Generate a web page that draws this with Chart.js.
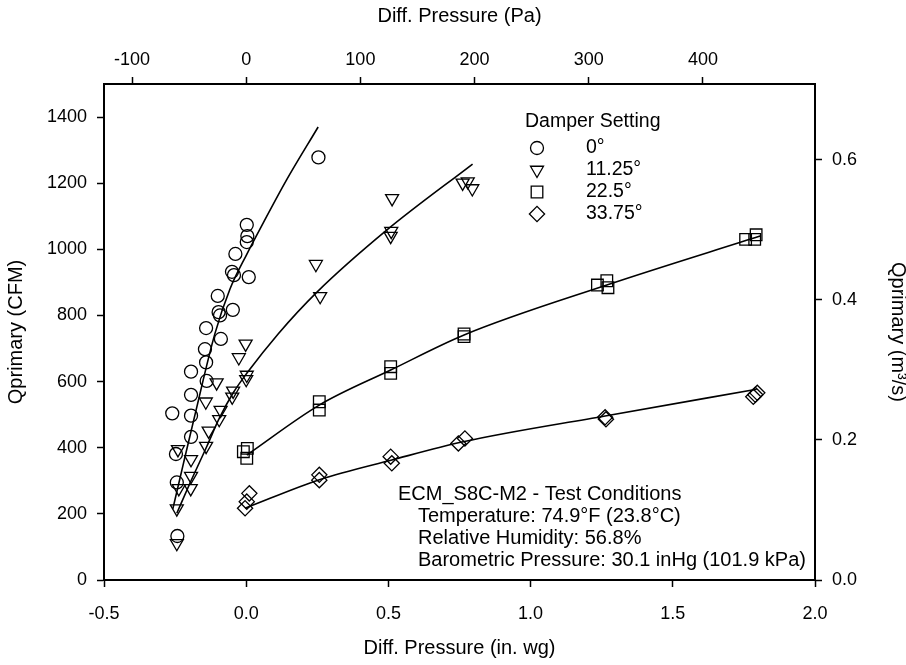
<!DOCTYPE html>
<html><head><meta charset="utf-8">
<script src="https://cdn.jsdelivr.net/npm/chart.js@4/dist/chart.umd.min.js"></script>
<style>html,body{margin:0;padding:0;background:#fff;}#wrap{width:906px;height:665px;}</style>
</head><body><div id="wrap"><canvas id="c" width="906" height="665"></canvas></div>
<script>
// ---- data ----
const circleX = [0.254, 0.002, 0.004, 0.002, -0.038, -0.050, -0.043, 0.009, -0.100, -0.097, -0.092, -0.047, -0.141, -0.089, -0.145, -0.141, -0.194, -0.139, -0.194, -0.260, -0.194, -0.194, -0.247, -0.244, -0.242];
const circleY = [1278, 1074, 1040, 1022, 986, 932, 922, 916, 859, 810, 800, 817, 762, 729, 698, 658, 630, 602, 560, 504, 497, 433, 381, 295, 133];
const triX = [-0.002, -0.026, 0.002, 0.000, -0.104, -0.046, -0.049, -0.142, -0.090, -0.095, -0.132, -0.141, -0.240, -0.194, -0.194, -0.195, -0.237, -0.244, -0.244, 0.245, 0.260, 0.513, 0.510, 0.508, 0.761, 0.779, 0.795];
const triY = [714, 673, 620, 607, 597, 572, 554, 539, 514, 486, 451, 405, 395, 365, 314, 277, 277, 216, 111, 955, 858, 1154, 1055, 1040, 1201, 1205, 1184];
const sqX = [-0.010, 0.004, 0.002, 0.257, 0.257, 0.508, 0.508, 0.766, 0.766, 1.235, 1.268, 1.272, 1.756, 1.793, 1.788];
const sqY = [388, 398, 368, 539, 514, 645, 625, 744, 736, 892, 905, 884, 1030, 1044, 1030];
const diaX = [0.011, 0.002, -0.004, 0.257, 0.257, 0.508, 0.512, 0.746, 0.769, 1.262, 1.265, 1.783, 1.797, 1.790];
const diaY = [262, 237, 217, 318, 302, 373, 353, 413, 428, 492, 486, 554, 566, 560];

// fitted curves
const fitCircleX = [-0.258, -0.22, -0.18, -0.11, -0.057, 0.002, 0.06, 0.142, 0.253];
const fitCircleY = [215, 355, 500, 745, 880, 985, 1080, 1210, 1370];
const fitTriX = [-0.244, -0.194, -0.139, -0.094, -0.045, 0.002, 0.113, 0.248, 0.494, 0.796];
const fitTriY = [202, 300, 403, 490, 567, 625, 745, 870, 1058, 1258];
const fitSqX = [0.002, 0.257, 0.508, 0.766, 1.268, 1.807];
const fitSqY = [378, 529, 635, 741, 892, 1040];
const fitDiaX = [-0.004, 0.26, 0.512, 0.763, 1.262, 1.795];
const fitDiaY = [217, 304, 363, 418, 496, 577];

const seriesNames = ['0°', '11.25°', '22.5°', '33.75°'];
const legendTitle = 'Damper Setting';
const noteLines = ['ECM_S8C-M2 - Test Conditions', 'Temperature: 74.9°F (23.8°C)', 'Relative Humidity: 56.8%', 'Barometric Pressure: 30.1 inHg (101.9 kPa)'];

const xMin = -0.5, xMax = 2.0, yMin = 0, yMax = 1500;
const PA_PER_INWG = 249.089;
const M3S_PER_CFM = 0.000471947;

const FONT = '"Liberation Sans", Arial, sans-serif';
const zip = (xs, ys) => xs.map((x, i) => ({x, y: ys[i]}));

const markers = [
  {pointStyle: 'circle', radius: 6.5, rotation: 0},
  {pointStyle: 'triangle', radius: 7.5, rotation: 180},
  {pointStyle: 'rect', radius: 8.2, rotation: 0},
  {pointStyle: 'rectRot', radius: 7.6, rotation: 0}
];

function pointDs(label, xs, ys, m) {
  return {label, data: zip(xs, ys), showLine: false, pointStyle: m.pointStyle, pointRadius: m.radius,
    pointRotation: m.rotation, pointBorderWidth: 1.3, borderColor: '#000', backgroundColor: 'rgba(0,0,0,0)',
    pointBackgroundColor: 'rgba(0,0,0,0)', pointBorderColor: '#000', pointHoverRadius: m.radius};
}
function lineDs(xs, ys) {
  return {label: '', data: zip(xs, ys), showLine: true, pointRadius: 0, borderColor: '#000', borderWidth: 1.6,
    cubicInterpolationMode: 'monotone', fill: false};
}

const overlay = {
  id: 'overlay',
  afterDraw(chart) {
    const ctx = chart.ctx;
    ctx.save();
    ctx.textBaseline = 'middle';
    ctx.textAlign = 'left';
    ctx.font = '19.5px ' + FONT;
    ctx.fillStyle = '#000';
    ctx.fillText(legendTitle, 525, 122);
    seriesNames.forEach((n, i) => {
      const y = 148 + i * 22;
      const m = markers[i];
      ctx.strokeStyle = '#000';
      ctx.lineWidth = 1.3;
      ctx.fillStyle = 'rgba(0,0,0,0)';
      Chart.helpers.drawPoint(ctx, {pointStyle: m.pointStyle, radius: m.radius, rotation: m.rotation, borderWidth: 1.3}, 537, y);
      ctx.fillStyle = '#000';
      ctx.fillText(n, 586, y);
    });
    ctx.font = '20px ' + FONT;
    noteLines.forEach((t, i) => {
      ctx.fillText(t, i === 0 ? 398 : 418, 494 + i * 22);
    });
    ctx.restore();
  }
};

const tickFont = {family: FONT, size: 18};
const titleFont = {family: FONT, size: 20};
const gridCfg = {drawOnChartArea: false, drawTicks: true, tickLength: 7, tickColor: '#000', tickWidth: 1.5, color: '#000'};
const borderCfg = {display: true, color: '#000', width: 2};
const plain = v => String(v);

new Chart(document.getElementById('c'), {
  type: 'scatter',
  data: {datasets: [
    pointDs(seriesNames[0], circleX, circleY, markers[0]),
    pointDs(seriesNames[1], triX, triY, markers[1]),
    pointDs(seriesNames[2], sqX, sqY, markers[2]),
    pointDs(seriesNames[3], diaX, diaY, markers[3]),
    lineDs(fitCircleX, fitCircleY),
    lineDs(fitTriX, fitTriY),
    lineDs(fitSqX, fitSqY),
    lineDs(fitDiaX, fitDiaY)
  ]},
  options: {
    responsive: false, animation: false, devicePixelRatio: 1,
    layout: {padding: 0},
    plugins: {legend: {display: false}, tooltip: {enabled: false}},
    scales: {
      x: {type: 'linear', position: 'bottom', min: xMin, max: xMax,
        ticks: {stepSize: 0.5, includeBounds: false, color: '#000', font: tickFont, padding: 16, maxRotation: 0,
          callback: v => v.toFixed(1)},
        grid: gridCfg, border: borderCfg,
        title: {display: true, text: 'Diff. Pressure (in. wg)', color: '#000', font: titleFont, padding: {top: 0, bottom: 5}},
        afterFit: s => { s.height = 85; }},
      x2: {type: 'linear', position: 'top', min: xMin * PA_PER_INWG, max: xMax * PA_PER_INWG,
        ticks: {stepSize: 100, includeBounds: false, color: '#000', font: tickFont, padding: 6, maxRotation: 0, callback: plain},
        grid: gridCfg, border: borderCfg,
        title: {display: true, text: 'Diff. Pressure (Pa)', color: '#000', font: titleFont, padding: {top: 4, bottom: 0}},
        afterFit: s => { s.height = 84; }},
      y: {type: 'linear', position: 'left', min: yMin, max: yMax,
        ticks: {stepSize: 200, includeBounds: false, color: '#000', font: tickFont, padding: 10, callback: plain},
        grid: gridCfg, border: borderCfg,
        title: {display: true, text: 'Qprimary (CFM)', color: '#000', font: titleFont, padding: {top: 4, bottom: 0}},
        afterFit: s => { s.width = 104; }},
      y2: {type: 'linear', position: 'right', min: yMin * M3S_PER_CFM, max: yMax * M3S_PER_CFM,
        ticks: {stepSize: 0.2, includeBounds: false, color: '#000', font: tickFont, padding: 10,
          callback: v => v.toFixed(1)},
        grid: gridCfg, border: borderCfg,
        title: {display: true, text: 'Qprimary (m³/s)', color: '#000', font: titleFont, padding: {top: -4, bottom: 0}},
        afterFit: s => { s.width = 91; }}
    }
  },
  plugins: [overlay]
});
</script>
</body></html>
